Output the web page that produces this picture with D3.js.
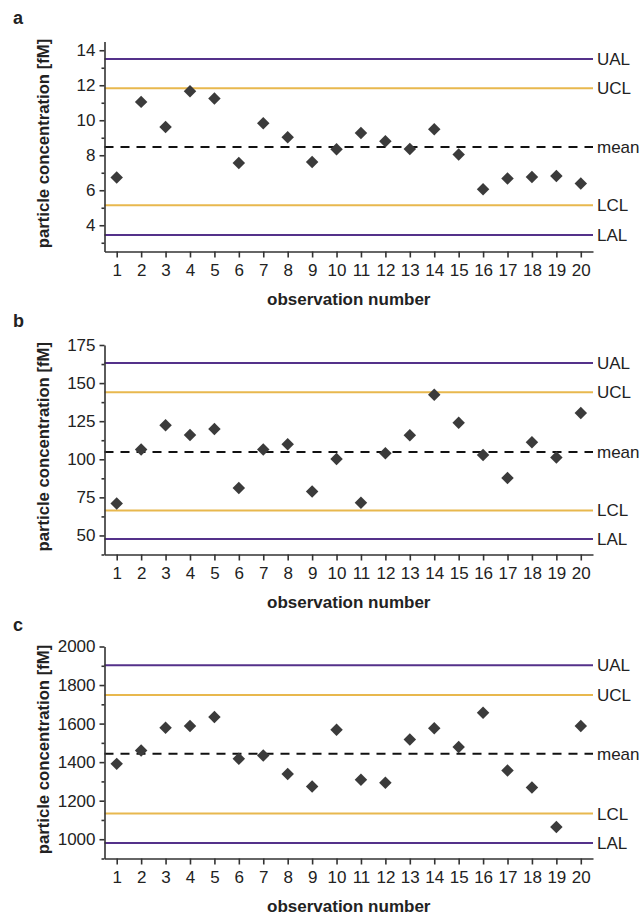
<!DOCTYPE html>
<html>
<head>
<meta charset="utf-8">
<script src="https://cdn.jsdelivr.net/npm/d3@7"></script>
<style>
  html, body { margin: 0; padding: 0; background: #fff; }
  svg { display: block; }
  text { font-family: "Liberation Sans", Arial, sans-serif; fill: #222; }
</style>
</head>
<body>
<svg id="chart" width="641" height="918"></svg>
<script>
// Observation numbers shared by all three control charts
const observations = [1, 2, 3, 4, 5, 6, 7, 8, 9, 10, 11, 12, 13, 14, 15, 16, 17, 18, 19, 20];

// Panel a: particle concentration [fM]
const concA = [6.73, 11.05, 9.62, 11.66, 11.24, 7.56, 9.83, 9.03, 7.62, 8.34,
               9.27, 8.80, 8.36, 9.49, 8.04, 6.06, 6.67, 6.76, 6.82, 6.38];
const limitsA = { UAL: 13.5, UCL: 11.83, mean: 8.47, LCL: 5.14, LAL: 3.44 };
const ticksA = [4, 6, 8, 10, 12, 14];
const minorA = [3, 5, 7, 9, 11, 13];

// Panel b
const concB = [70.9, 106.4, 122.4, 116.0, 119.9, 81.1, 106.4, 109.9, 78.9, 100.2,
               71.5, 103.9, 115.8, 142.3, 123.9, 102.8, 87.7, 111.2, 101.1, 130.3];
const limitsB = { UAL: 163.2, UCL: 144.0, mean: 104.8, LCL: 66.4, LAL: 47.6 };
const ticksB = [50, 75, 100, 125, 150, 175];
const minorB = [37.5, 62.5, 87.5, 112.5, 137.5, 162.5];

// Panel c
const concC = [1391, 1460, 1578, 1588, 1634, 1417, 1434, 1338, 1273, 1568,
               1308, 1293, 1517, 1576, 1478, 1656, 1356, 1268, 1064, 1588];
const limitsC = { UAL: 1903, UCL: 1748, mean: 1443, LCL: 1133, LAL: 980 };
const ticksC = [1000, 1200, 1400, 1600, 1800, 2000];
const minorC = [900, 1100, 1300, 1500, 1700, 1900];

const limitNames = ["UAL", "UCL", "mean", "LCL", "LAL"];
const limitStyle = {
  UAL:  { stroke: "#54318a", dash: null },
  UCL:  { stroke: "#e8b84e", dash: null },
  mean: { stroke: "#111111", dash: "9,7" },
  LCL:  { stroke: "#e8b84e", dash: null },
  LAL:  { stroke: "#54318a", dash: null }
};

const panels = [
  { letter: "a", values: concA, limits: limitsA, domain: [2.5, 14.5], ticks: ticksA, minor: minorA, top: 41.5, bottom: 251.5, letterY: 23.5 },
  { letter: "b", values: concB, limits: limitsB, domain: [37.5, 175], ticks: ticksB, minor: minorB, top: 345, bottom: 554.5, letterY: 326.5 },
  { letter: "c", values: concC, limits: limitsC, domain: [900, 2000], ticks: ticksC, minor: minorC, top: 646.5, bottom: 858.5, letterY: 631 }
];

const left = 104.5, right = 593;
const fontStack = "'Liberation Sans', Arial, sans-serif";
const svg = d3.select("#chart");

const x = d3.scaleLinear().domain([0.5, 20.5]).range([left, right]);
const diamond = d3.symbol().type(d3.symbolSquare).size(78);

panels.forEach(p => {
  const y = d3.scaleLinear().domain(p.domain).range([p.bottom, p.top]);
  const g = svg.append("g");

  // panel letter
  svg.append("text")
    .attr("x", 13).attr("y", p.letterY)
    .attr("font-size", 18).attr("font-weight", "bold")
    .text(p.letter);

  // control / action limit lines
  limitNames.forEach(name => {
    const st = limitStyle[name];
    const yy = y(p.limits[name]);
    g.append("line")
      .attr("x1", left).attr("x2", right)
      .attr("y1", yy).attr("y2", yy)
      .attr("stroke", st.stroke)
      .attr("stroke-width", 2)
      .attr("stroke-dasharray", st.dash);
    g.append("text")
      .attr("x", right + 4).attr("y", yy)
      .attr("dy", "0.35em")
      .attr("font-size", 17)
      .text(name);
  });

  // y axis with minor ticks
  const yAxis = g.append("g")
    .attr("transform", `translate(${left},0)`)
    .call(d3.axisLeft(y).tickValues(p.ticks).tickFormat(d3.format("d"))
      .tickSize(5).tickPadding(4).tickSizeOuter(0));
  yAxis.selectAll("text").attr("font-size", 17).style("font-family", fontStack).attr("fill", "#222");
  g.append("g")
    .attr("transform", `translate(${left},0)`)
    .call(d3.axisLeft(y).tickValues(p.minor).tickSize(3).tickFormat("").tickSizeOuter(0))
    .call(s => s.select(".domain").remove());

  // x axis
  const xAxis = g.append("g")
    .attr("transform", `translate(0,${p.bottom})`)
    .call(d3.axisBottom(x).tickValues(observations).tickFormat(d3.format("d"))
      .tickSize(6).tickPadding(6).tickSizeOuter(0));
  xAxis.selectAll("text").attr("font-size", 17).style("font-family", fontStack).attr("fill", "#222");

  g.selectAll(".domain, .tick line").attr("stroke", "#333").attr("stroke-width", 1.6);

  // observation markers
  g.selectAll("path.obs")
    .data(p.values)
    .join("path")
    .attr("class", "obs")
    .attr("d", diamond)
    .attr("transform", (d, i) => `translate(${x(observations[i])},${y(d)}) rotate(45)`)
    .attr("fill", "#3b3b3b");

  // axis titles
  g.append("text")
    .attr("x", (left + right) / 2).attr("y", p.bottom + 53.5)
    .attr("text-anchor", "middle")
    .attr("font-size", 17).attr("font-weight", "bold")
    .text("observation number");
  g.append("text")
    .attr("transform", `translate(43,${(p.top + p.bottom) / 2 - 3}) rotate(-90)`)
    .attr("text-anchor", "middle")
    .attr("dy", "0.35em")
    .attr("font-size", 16.7).attr("font-weight", "bold")
    .text("particle concentration [fM]");
});
</script>
</body>
</html>
